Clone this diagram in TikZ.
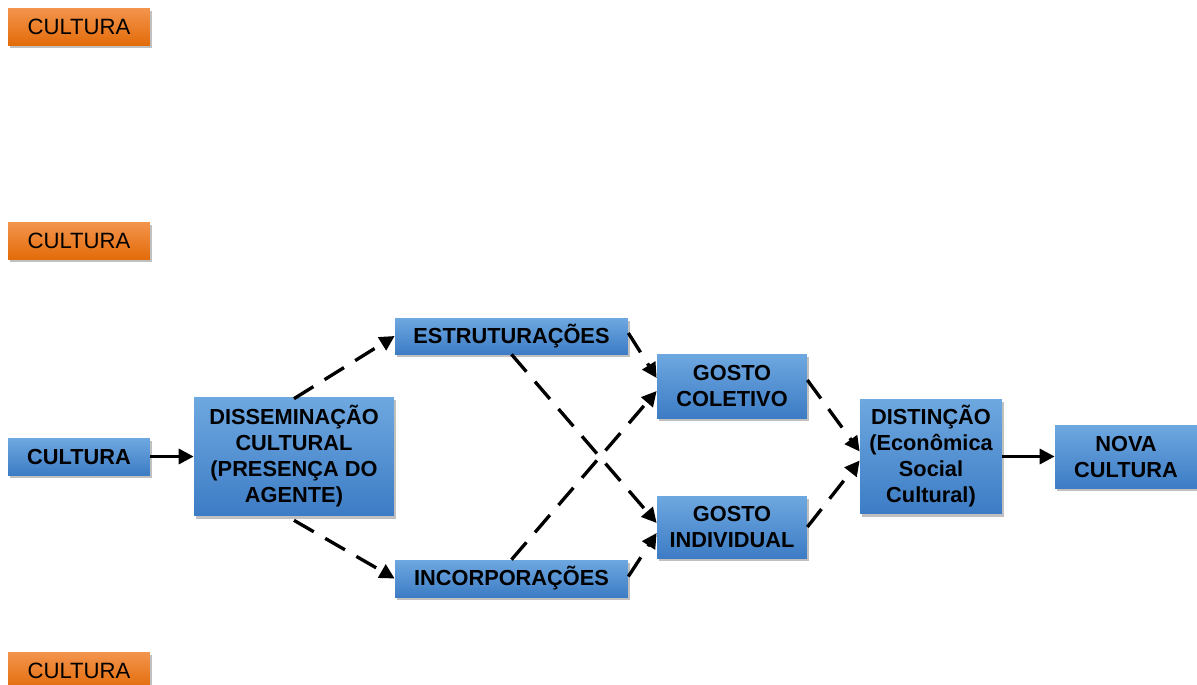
\documentclass[tikz,border=0pt]{standalone}
\usepackage{fontspec}
\setmainfont{Liberation Sans}
\usetikzlibrary{arrows.meta,shadows}
\definecolor{bluetop}{HTML}{6EA8E0}
\definecolor{bluebot}{HTML}{3D7CC5}
\definecolor{orgtop}{HTML}{F3944D}
\definecolor{orgbot}{HTML}{E36C0A}
\tikzset{
  box/.style={rectangle, inner sep=1pt, align=center, text=black,
    font=\fontsize{12.4}{14.8}\selectfont\bfseries,
    top color=bluetop, bottom color=bluebot, draw=none,
    drop shadow={shadow xshift=1.2pt, shadow yshift=-1.6pt, opacity=0.35, fill=black!70}},
  obox/.style={box, top color=orgtop, bottom color=orgbot,
    font=\fontsize{12.6}{14.8}\selectfont},
  dasharr/.style={draw=black, line width=1.9pt, dash pattern=on 13pt off 7.5pt,
    -{Triangle[length=8.5pt,width=8.5pt]}},
  solidarr/.style={draw=black, line width=1.9pt, -{Triangle[length=8.5pt,width=8.5pt]}},
}
\begin{document}
\begin{tikzpicture}[x=0.02cm,y=-0.02cm]
\useasboundingbox[fill=white] (0,0) rectangle (1197,684);
\node[obox, minimum width=2.84cm, minimum height=0.74cm] (o1) at (79,26.5) {CULTURA};
\node[obox, minimum width=2.84cm, minimum height=0.74cm] (o2) at (79,240.5) {CULTURA};
\node[obox, minimum width=2.84cm, minimum height=0.74cm] (o3) at (79,670.5) {CULTURA};
\node[box, minimum width=2.84cm, minimum height=0.74cm] (cult) at (79,456.5) {CULTURA};
\node[box, minimum width=4.0cm, minimum height=2.38cm] (diss) at (294,456.5) {DISSEMINAÇÃO\\CULTURAL\\(PRESENÇA DO\\AGENTE)};
\node[box, minimum width=4.66cm, minimum height=0.72cm] (estr) at (511.5,336) {ESTRUTURAÇÕES};
\node[box, minimum width=4.66cm, minimum height=0.74cm] (inc) at (511.5,578.5) {INCORPORAÇÕES};
\node[box, minimum width=3.0cm, minimum height=1.28cm] (gc) at (732,386) {GOSTO\\COLETIVO};
\node[box, minimum width=3.0cm, minimum height=1.24cm] (gi) at (732,527) {GOSTO\\INDIVIDUAL};
\node[box, minimum width=2.84cm, minimum height=2.30cm] (dist) at (931,456.5) {DISTINÇÃO\\(Econômica\\Social\\Cultural)};
\node[box, minimum width=2.84cm, minimum height=1.26cm] (nova) at (1126,456.5) {NOVA\\CULTURA};

\draw[solidarr] (cult.east) -- (diss.west);
\draw[solidarr] (dist.east) -- (nova.west);
\draw[dasharr] ([yshift=-0.04cm]diss.north) -- (estr.west);
\draw[dasharr] ([yshift=-0.08cm]diss.south) -- (inc.west);
\draw[dasharr] ([yshift=0.06cm]estr.east) -- ([yshift=0.16cm]gc.west);
\draw[dasharr] (estr.south) -- ([yshift=0.08cm]gi.west);
\draw[dasharr] (inc.north) -- ([yshift=-0.1cm]gc.west);
\draw[dasharr] ([yshift=0.04cm]inc.east) -- ([yshift=-0.12cm]gi.west);
\draw[dasharr] ([yshift=0.12cm]gc.east) -- ([yshift=0.1cm]dist.west);
\draw[dasharr] (gi.east) -- ([yshift=-0.08cm]dist.west);
\end{tikzpicture}
\end{document}
